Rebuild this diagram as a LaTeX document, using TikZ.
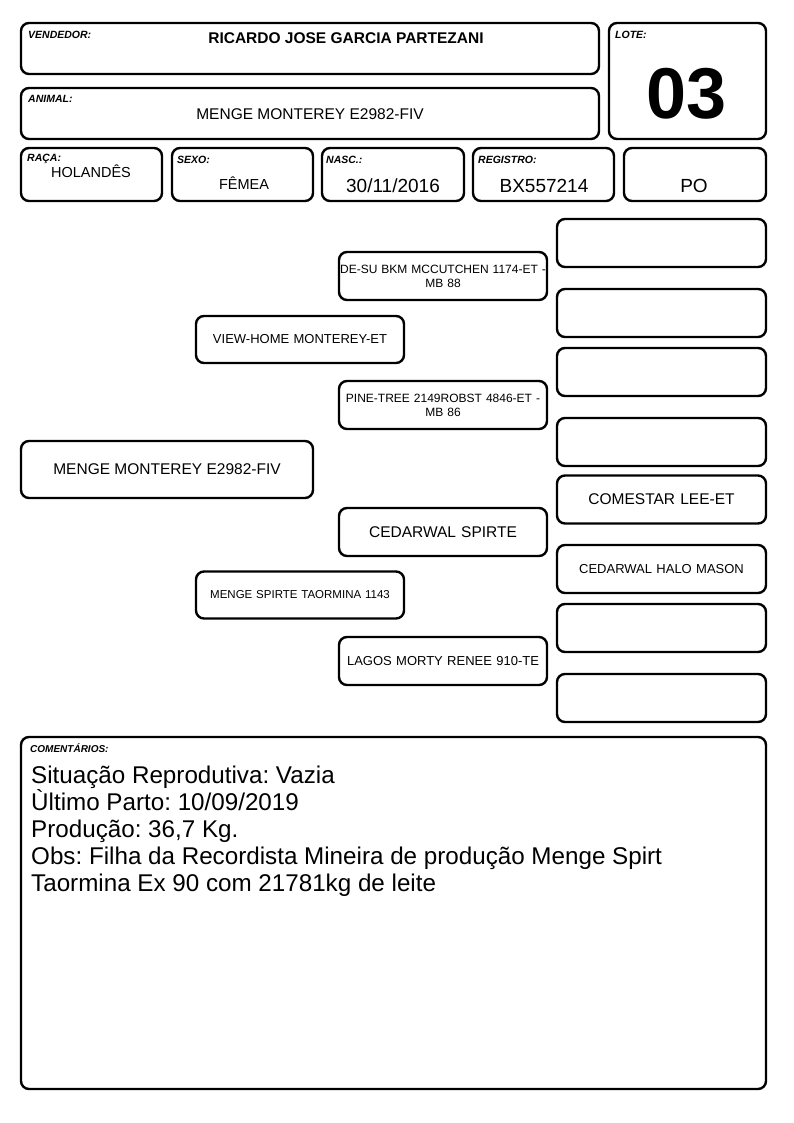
\documentclass[tikz,border=0pt]{standalone}
\usepackage{fontspec}
\setmainfont{Liberation Sans}
\frenchspacing
\newcommand{\px}[1]{\fontsize{#1}{#1}\selectfont}
\tikzset{
  cell/.style = {draw, line width=2.4pt, rounded corners=8pt, inner sep=0pt},
  tag/.style = {anchor=base west, inner sep=0pt, font=\px{10.5}\bfseries\itshape},
  val/.style = {anchor=base, inner sep=0pt},
  pedbox/.style = {cell, minimum width=208pt, minimum height=48pt, align=center, text width=206pt},
}
\begin{document}
\begin{tikzpicture}[x=1pt, y=-1pt]
  \useasboundingbox[fill=white] (0,0) rectangle (794,1123);

  % cabecalho
  \node[cell, minimum width=578pt, minimum height=51pt] (vendbox) at (310,48.5) {};
  \node[cell, minimum width=578pt, minimum height=51pt] (animalbox) at (310,113.5) {};
  \node[cell, minimum width=157pt, minimum height=116pt] (lotebox) at (687.5,81) {};
  \node[tag] (vendtag) at (28,39) {VENDEDOR:};
  \node[val, font=\px{15.5}\bfseries] (vendval) at (346,44) {RICARDO JOSE GARCIA PARTEZANI};
  \node[tag] (animaltag) at (28,103) {ANIMAL:};
  \node[val, font=\px{15.5}] (animalval) at (310,120) {MENGE MONTEREY E2982-FIV};
  \node[tag] (lotetag) at (615,39) {LOTE:};
  \node[val, font=\px{72}\bfseries] (loteval) at (687,119) {03};

  % dados
  \node[cell, minimum width=141pt, minimum height=53pt] (racabox) at (91.5,174.5) {};
  \node[cell, minimum width=141pt, minimum height=53pt] (sexobox) at (242.5,174.5) {};
  \node[cell, minimum width=142pt, minimum height=53pt] (nascbox) at (393,174.5) {};
  \node[cell, minimum width=141pt, minimum height=53pt] (regbox) at (543.5,174.5) {};
  \node[cell, minimum width=142pt, minimum height=53pt] (pobox) at (695,174.5) {};
  \node[tag] (racatag) at (27,162) {RAÇA:};
  \node[val, font=\px{14.5}] (racaval) at (91,178) {HOLANDÊS};
  \node[tag] (sexotag) at (177,164) {SEXO:};
  \node[val, font=\px{14.5}] (sexoval) at (244,190) {FÊMEA};
  \node[tag] (nasctag) at (326,164) {NASC.:};
  \node[val, font=\px{19}] (nascval) at (393,193) {30/11/2016};
  \node[tag] (regtag) at (478,164) {REGISTRO:};
  \node[val, font=\px{19}] (regval) at (544,193) {BX557214};
  \node[val, font=\px{19}] (poval) at (694,193) {PO};

  % pedigree
  \node[cell, minimum width=292pt, minimum height=57pt, font=\px{15.5}] (animal) at (167,469.5) {MENGE MONTEREY E2982-FIV};
  \node[pedbox, minimum height=47pt, font=\px{13}] (pai) at (300,339.5) {VIEW-HOME MONTEREY-ET};
  \node[pedbox, minimum height=47pt, font=\px{11.5}] (mae) at (300,595) {MENGE SPIRTE TAORMINA 1143};
  \node[pedbox, font=\fontsize{12}{14}\selectfont] (avopp) at (443,276) {DE-SU BKM MCCUTCHEN 1174-ET -\\MB 88};
  \node[pedbox, font=\fontsize{12}{14}\selectfont] (avopm) at (443,405) {PINE-TREE 2149ROBST 4846-ET -\\MB 86};
  \node[pedbox, font=\px{15.5}] (avomp) at (443,532) {CEDARWAL SPIRTE};
  \node[pedbox, font=\px{13}] (avomm) at (443,661) {LAGOS MORTY RENEE 910-TE};
  \foreach \y [count=\i] in {243, 313, 372, 442, 628, 698}
    \node[pedbox, minimum width=209pt] (bisavo\i) at (661.5,\y) {};
  \node[pedbox, minimum width=209pt, font=\px{15.5}] (bisavomp1) at (661.5,499.5) {COMESTAR LEE-ET};
  \node[pedbox, minimum width=209pt, font=\px{13}] (bisavomp2) at (661.5,569) {CEDARWAL HALO MASON};

  % comentarios
  \node[cell, minimum width=745pt, minimum height=352pt] (combox) at (393.5,913) {};
  \node[tag, font=\px{10}\bfseries\itshape] (comtag) at (30,752) {COMENTÁRIOS:};
  \foreach \t [count=\i] in {Situação Reprodutiva: Vazia, Ùltimo Parto: 10/09/2019, {Produção: 36,7 Kg.},
      Obs: Filha da Recordista Mineira de produção Menge Spirt, Taormina Ex 90 com 21781kg de leite}
    \node[anchor=base west, inner sep=0pt, font=\px{24.2}] (comline\i) at (31,756+27*\i) {\t};
\end{tikzpicture}
\end{document}
